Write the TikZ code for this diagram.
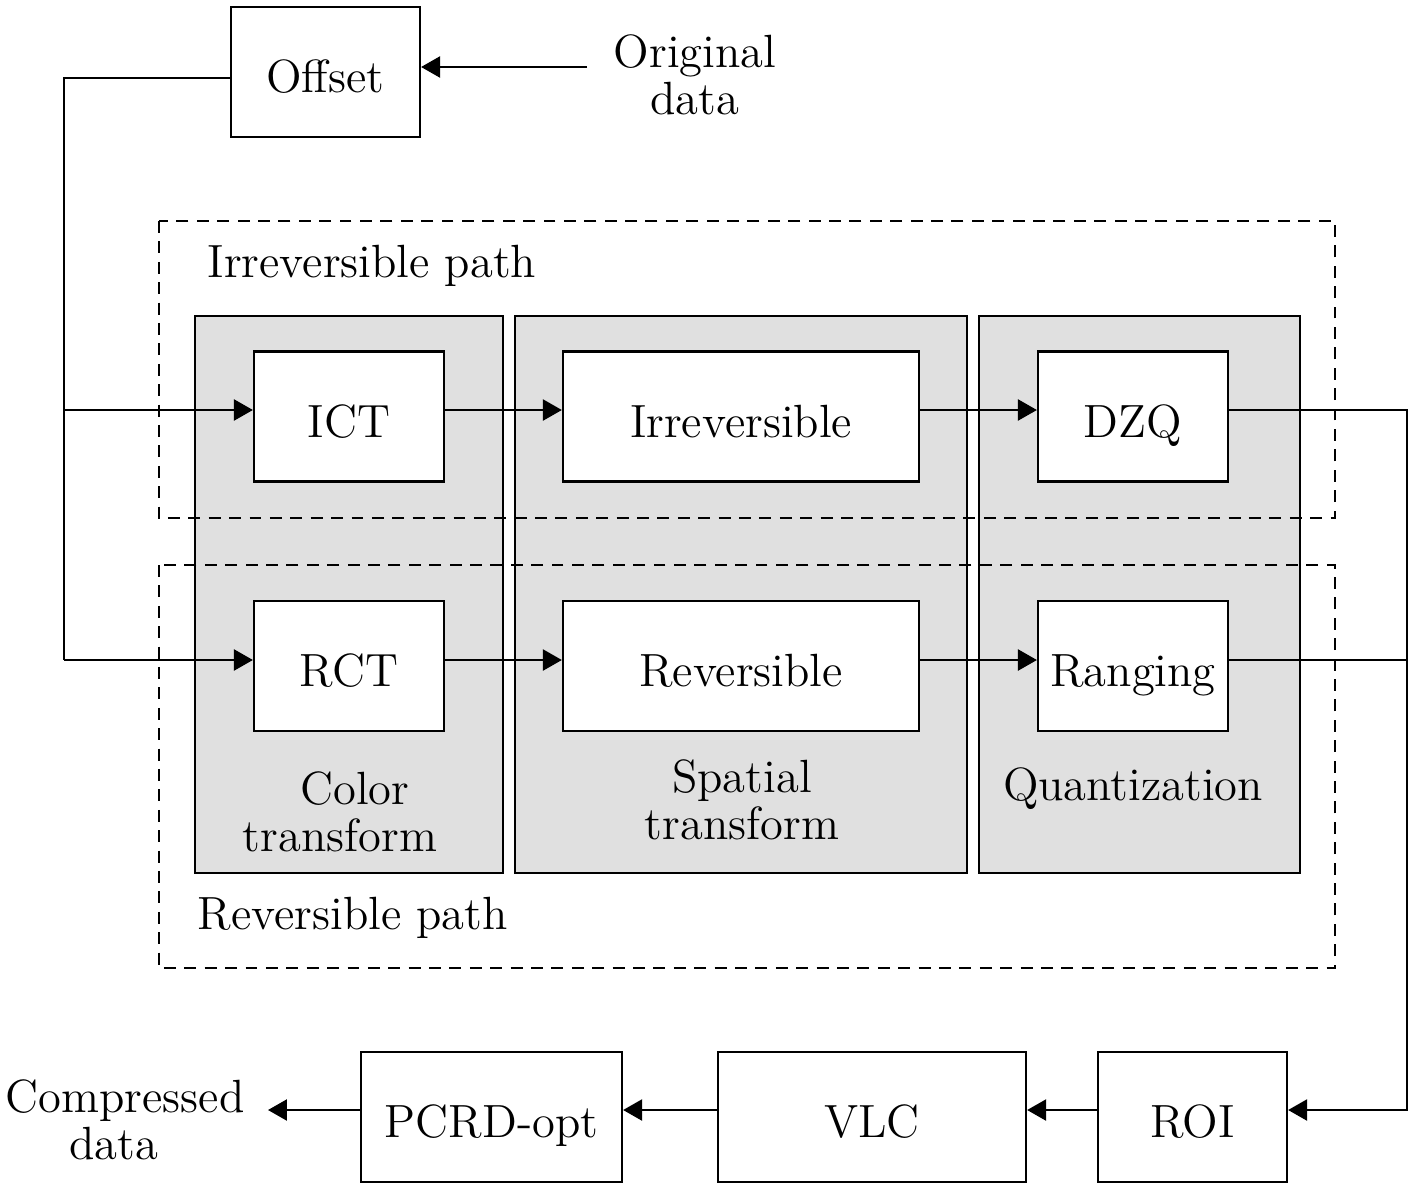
\documentclass[tikz,border=0pt]{standalone}
\usetikzlibrary{arrows.meta}
\definecolor{stagegray}{HTML}{E0E0E0}

\begin{document}
\begin{tikzpicture}[x=0.01cm,y=-0.01cm,
		font=\fontsize{13.25}{13.4}\selectfont,
		block/.style={draw, fill=white, line width=0.6pt, inner sep=0pt, minimum height=1.3cm,
			text height=0.41cm, text depth=0pt},
		stage/.style={draw, fill=stagegray, line width=0.6pt, inner sep=0pt},
		pathbox/.style={draw, line width=0.6pt, dash pattern=on 3.4pt off 2.4pt},
		arr/.style={line width=0.6pt, -{Triangle[length=5.4pt,width=6pt]}},
		wire/.style={line width=0.6pt}]
	\useasboundingbox (0,0) rectangle (1413,1188);
	
	% stages
	\node[stage, minimum width=3.08cm, minimum height=5.57cm] (color) at (349,594.5) {};
	\node[stage, minimum width=4.52cm, minimum height=5.57cm] (spatial) at (741,594.5) {};
	\node[stage, minimum width=3.21cm, minimum height=5.57cm] (quant) at (1139.5,594.5) {};
	\node[align=center] (colorlbl) at (340,812) {\hspace*{0.3cm}Color\\transform};
	\node[align=center] (spatiallbl) at (742,800) {Spatial\\transform};
	\node (quantlbl) at (1133,789) {Quantization};
	
	% paths
	\draw[pathbox] (159,221) rectangle (1335,518);
	\draw[pathbox] (159,565) rectangle (1335,968);
	\node[anchor=west, inner sep=0pt] (irrlbl) at (207,266) {Irreversible path};
	\node[anchor=west, inner sep=0pt] (revlbl) at (197,918) {Reversible path};
	
	\coordinate (irow) at (0,410);
	\coordinate (rrow) at (0,660);
	\coordinate (brow) at (0,1110);
	
	\node[block, minimum width=1.89cm] (offset) at (325.5,72) {Offset};
	\node[align=center] (orig) at (695,75) {Original\\data};
	
	\node[block, minimum width=1.90cm] (ict) at (349,416.5) {ICT};
	\node[block, minimum width=3.56cm] (irrev) at (741,416.5) {Irreversible};
	\node[block, minimum width=1.90cm] (dzq) at (1133,416.5) {DZQ};
	\node[block, minimum width=1.90cm] (rct) at (349,666) {RCT};
	\node[block, minimum width=3.56cm] (rev) at (741,666) {Reversible};
	\node[block, minimum width=1.90cm] (ranging) at (1133,666) {Ranging};
	
	\node[block, minimum width=1.89cm] (roi) at (1192.5,1117) {ROI};
	\node[block, minimum width=3.08cm] (vlc) at (872,1117) {VLC};
	\node[block, minimum width=2.61cm] (pcrd) at (491.5,1117) {PCRD-opt};
	\node[align=center] (comp) at (125,1120) {Compressed\\data\hspace*{0.22cm}};
	
	\coordinate (in) at (587,67);
	\coordinate (split) at (64,410);
	\coordinate (join) at (1407,410);
	\coordinate (out) at (268,1110);
	
	\draw[arr] (in) -- (in -| offset.east);
	\draw[wire] ([yshift=-0.06cm]offset.west) -| (split) -- (64,660);
	\draw[arr] (split) -- (split -| ict.west);
	\draw[arr] (64,660) -- (rct.west |- rrow);
	\draw[arr] (ict.east |- irow) -- (irrev.west |- irow);
	\draw[arr] (irrev.east |- irow) -- (dzq.west |- irow);
	\draw[arr] (rct.east |- rrow) -- (rev.west |- rrow);
	\draw[arr] (rev.east |- rrow) -- (ranging.west |- rrow);
	\draw[arr] (dzq.east |- irow) -- (join) |- (roi.east |- brow);
	\draw[wire] (ranging.east |- rrow) -- (join |- rrow);
	\draw[arr] (roi.west |- brow) -- (vlc.east |- brow);
	\draw[arr] (vlc.west |- brow) -- (pcrd.east |- brow);
	\draw[arr] (pcrd.west |- brow) -- (out);
\end{tikzpicture}
\end{document}
